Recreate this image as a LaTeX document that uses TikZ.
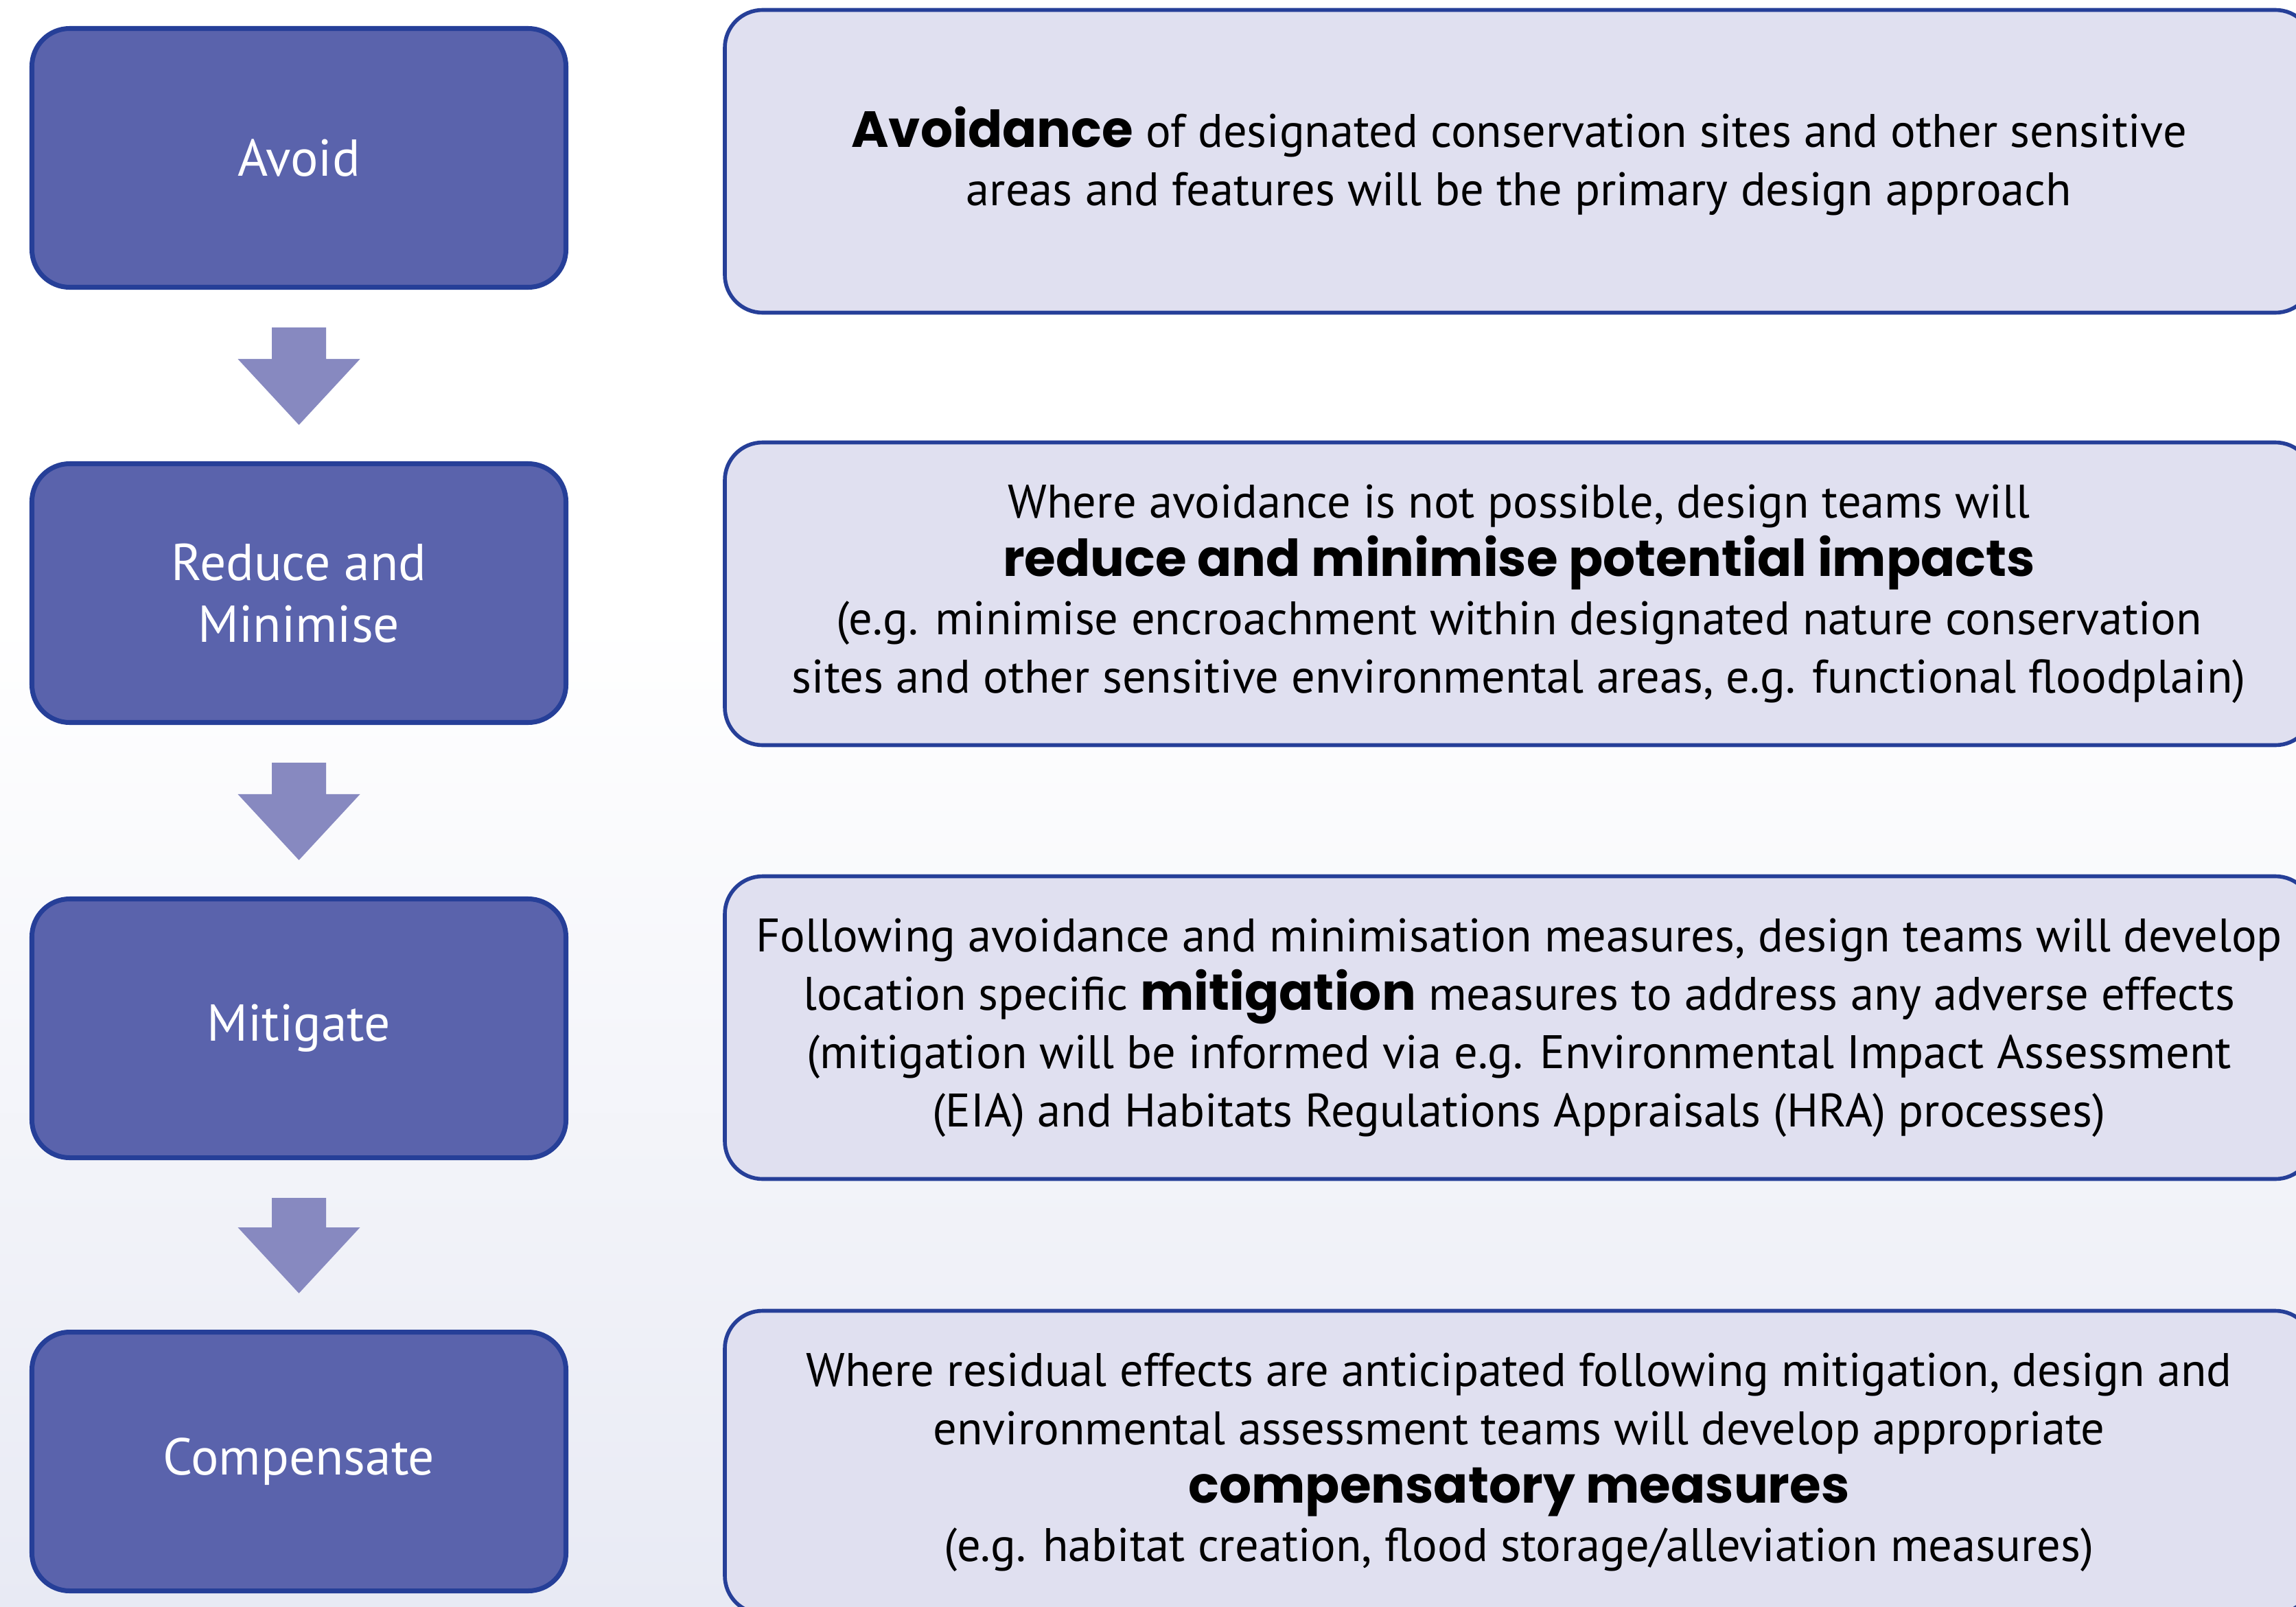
\documentclass[tikz,border=0pt]{standalone}
\usepackage{fontspec}
\setmainfont{PT Sans}
\newfontfamily\heavyfont[Scale=1.08]{Poppins}
\usetikzlibrary{calc}

\definecolor{stagefill}{HTML}{5A63AC}
\definecolor{stageline}{HTML}{263F98}
\definecolor{notefill}{HTML}{E0E0F0}
\definecolor{arrowfill}{HTML}{8789C0}
\definecolor{bgblue}{HTML}{E8EAF4}

\newcommand{\keyword}[1]{{\heavyfont\bfseries #1}}

\tikzset{
  stage/.style={draw=stageline, fill=stagefill, line width=2pt, rounded corners=0.55cm,
    minimum width=7.78cm, minimum height=3.77cm, text=white, align=center,
    font=\fontsize{21.5}{25.5}\selectfont},
  note/.style={draw=stageline, fill=notefill, line width=1.6pt, rounded corners=0.55cm,
    minimum width=23.14cm, minimum height=4.41cm, align=center,
    font=\fontsize{19.5}{24.2}\selectfont},
}

% block arrow between two stages
\newcommand{\stagearrow}[2]{%
  \fill[arrowfill] ($(#1.south)+(-0.395,-0.55)$) -- ($(#1.south)+(0.395,-0.55)$)
    -- ($(#2.north)+(0.395,1.49)$) -- ($(#2.north)+(0.89,1.49)$)
    -- ($(#2.north)+(0,0.53)$)
    -- ($(#2.north)+(-0.89,1.49)$) -- ($(#2.north)+(-0.395,1.49)$) -- cycle;}

\begin{document}
\begin{tikzpicture}
\useasboundingbox (0,0) rectangle (33.45,-23.41);
\clip (0,0) rectangle (33.45,-23.41);
\fill[white] (0,0) rectangle (33.45,-9);
\shade[top color=white, bottom color=bgblue] (0,-9) rectangle (33.45,-23.41);

\node[stage] (avoid) at (4.355,-2.30) {Avoid};
\node[stage] (reduce) at (4.355,-8.64) {Reduce and\\Minimise};
\node[stage] (mitigate) at (4.355,-14.98) {Mitigate};
\node[stage] (compensate) at (4.355,-21.29) {Compensate};

\stagearrow{avoid}{reduce}
\stagearrow{reduce}{mitigate}
\stagearrow{mitigate}{compensate}

\node[note] (avoidnote) at (22.13,-2.35) {\keyword{Avoidance} of designated conservation sites and other sensitive\\areas and features will be the primary design approach};
\node[note] (reducenote) at (22.13,-8.65) {Where avoidance is not possible, design teams will\\\keyword{reduce and minimise potential impacts}\\(e.g. minimise encroachment within designated nature conservation\\sites and other sensitive environmental areas, e.g. functional floodplain)};
\node[note] (mitigatenote) at (22.13,-14.97) {Following avoidance and minimisation measures, design teams will develop\\location specific \keyword{mitigation} measures to address any adverse effects\\(mitigation will be informed via e.g. Environmental Impact Assessment\\(EIA) and Habitats Regulations Appraisals (HRA) processes)};
\node[note] (compensatenote) at (22.13,-21.30) {Where residual effects are anticipated following mitigation, design and\\environmental assessment teams will develop appropriate\\\keyword{compensatory measures}\\(e.g. habitat creation, flood storage/alleviation measures)};
\end{tikzpicture}
\end{document}
